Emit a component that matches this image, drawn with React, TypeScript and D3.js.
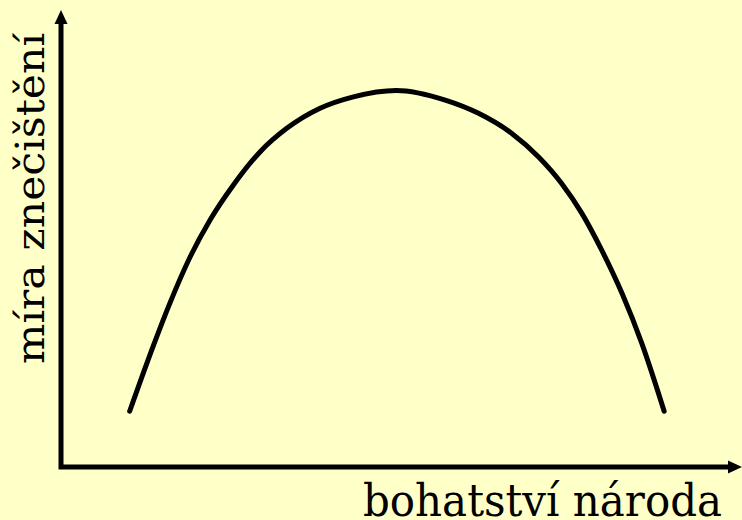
import React from "react";
import * as d3 from "d3";

const W = 742;
const H = 520;

// wealth of nation (x, 0–100) and level of pollution (y, 0–100)
const wealth = [10.1, 13.6, 16.0, 19.0, 21.9, 25.3, 29.3, 33.2, 38.1, 43.0, 49.3, 56.5, 61.4, 66.3, 70.2, 73.6, 76.6, 79.5, 82.5, 85.4, 88.7];
const pollution = [12.2, 26.6, 35.8, 46.0, 54.0, 61.6, 69.0, 74.1, 78.5, 81.0, 82.4, 80.3, 77.4, 73.0, 67.9, 62.1, 55.5, 47.5, 38.0, 27.1, 12.2];

const xLabel = "bohatství národa";
const yLabel = "míra znečištění";

export default function App() {
  const x = d3.scaleLinear().domain([0, 100]).range([61, 741]);
  const y = d3.scaleLinear().domain([0, 100]).range([467, 10]);

  const pts: [number, number][] = wealth.map((w, i) => [w, pollution[i]]);
  const line = d3
    .line<[number, number]>()
    .x((d) => x(d[0]))
    .y((d) => y(d[1]))
    .curve(d3.curveMonotoneX);

  const x0 = x(0);
  const y0 = y(0);
  const xEnd = x(100) + 1;
  const yTop = y(100);
  const ah = 14; // arrow length
  const aw = 6.5; // arrow half width

  return (
    <svg
      width={W}
      height={H}
      style={{ position: "fixed", left: 0, top: 0, display: "block" }}
    >
      <rect x={0} y={0} width={W} height={H} fill="#FFFFC8" />
      {/* axes */}
      <path
        d={`M${x0},${yTop + ah - 2} L${x0},${y0} L${xEnd - ah + 2},${y0}`}
        fill="none"
        stroke="#000"
        strokeWidth={5}
        strokeLinejoin="miter"
      />
      <path
        d={`M${x0},${yTop} L${x0 + aw},${yTop + ah} L${x0 - aw},${yTop + ah} Z`}
        fill="#000"
      />
      <path
        d={`M${xEnd},${y0} L${xEnd - ah},${y0 - aw} L${xEnd - ah},${y0 + aw} Z`}
        fill="#000"
      />
      {/* curve */}
      <path
        d={line(pts) || ""}
        fill="none"
        stroke="#000"
        strokeWidth={5}
        strokeLinecap="round"
        strokeLinejoin="round"
      />
      {/* labels */}
      <text
        x={363}
        y={516}
        fontFamily="DejaVu Serif"
        fontSize={44}
        textLength={359}
        lengthAdjust="spacingAndGlyphs"
        fill="#000"
      >
        {xLabel}
      </text>
      <text
        transform={`translate(43.5,364) rotate(-90)`}
        x={0}
        y={0}
        fontFamily="DejaVu Serif"
        fontSize={40}
        textLength={331}
        lengthAdjust="spacingAndGlyphs"
        fill="#000"
      >
        {yLabel}
      </text>
    </svg>
  );
}
